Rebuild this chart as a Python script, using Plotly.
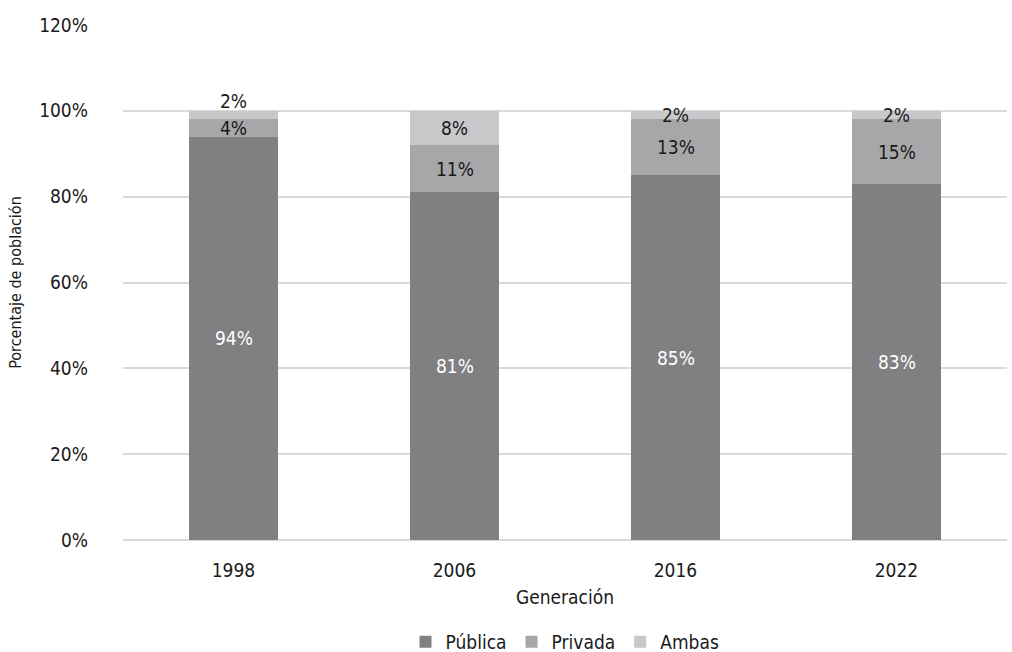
import plotly.graph_objects as go

# Survey generations and school type shares (%)
generaciones = ["1998", "2006", "2016", "2022"]
publica = [94, 81, 85, 83]
privada = [4, 11, 13, 15]
ambas = [2, 8, 2, 2]

series = [
    ("Pública", publica, "#808083", "white"),
    ("Privada", privada, "#a7a7a9", "#1a1a1a"),
    ("Ambas", ambas, "#c8c8ca", "#1a1a1a"),
]

FONT = "Liberation Sans Narrow, DejaVu Sans Condensed, sans-serif"

fig = go.Figure()
annotations = []
base = [0] * len(generaciones)
for name, vals, color, tcolor in series:
    fig.add_trace(go.Bar(
        x=list(range(len(generaciones))), y=vals, name=name,
        marker=dict(color=color, line=dict(width=0)),
        width=0.4, textposition="none",
    ))
    for i, v in enumerate(vals):
        # lift the tiny top label in 1998 so it clears the one below
        shift = 14 if (name == "Ambas" and i == 0) else 0
        annotations.append(dict(
            x=i, y=base[i] + v / 2, text=f"{v}%", showarrow=False,
            yshift=shift,
            font=dict(color=tcolor, size=19, family=FONT),
        ))
    base = [b + v for b, v in zip(base, vals)]

fig.update_layout(
    barmode="stack",
    width=1012, height=652,
    margin=dict(l=123, r=5, t=25, b=112, autoexpand=False),
    paper_bgcolor="white", plot_bgcolor="white",
    font=dict(family=FONT, size=19, color="#1a1a1a"),
    annotations=annotations,
    legend=dict(
        orientation="h", x=0.5, xanchor="center", y=-0.198, yanchor="middle",
        font=dict(size=19), itemwidth=30, traceorder="normal",
    ),
    xaxis=dict(
        title=dict(text="Generación", standoff=10, font=dict(size=19)),
        tickmode="array", tickvals=list(range(len(generaciones))),
        ticktext=generaciones, range=[-0.5, len(generaciones) - 0.5],
        showgrid=False, showline=False, ticks="", zeroline=False,
        ticklabelstandoff=17, automargin=False,
    ),
    yaxis=dict(
        title=dict(text="Porcentaje de población", standoff=13, font=dict(size=16)),
        range=[0, 120], dtick=20, ticksuffix="%",
        showgrid=True, gridcolor="#d9d9d9", gridwidth=1.5,
        zeroline=True, zerolinecolor="#d9d9d9", zerolinewidth=1.5,
        ticks="", ticklabelstandoff=34, automargin=False,
    ),
)

fig.write_html("out.html")
